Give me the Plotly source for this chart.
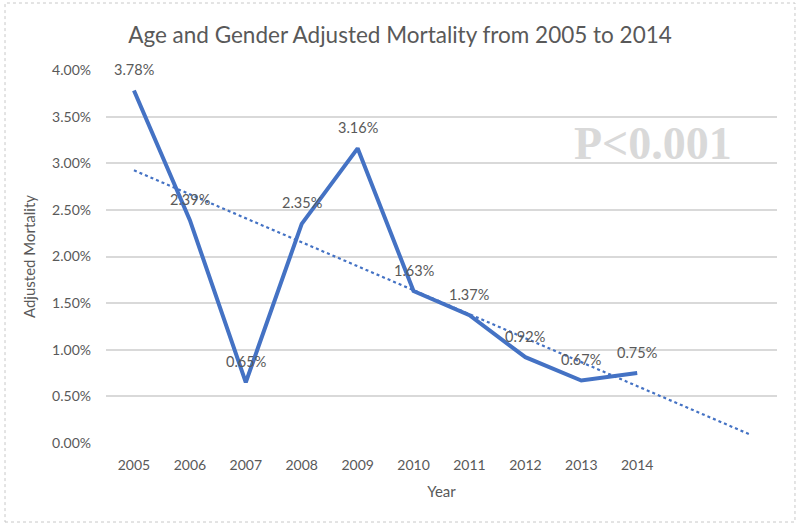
import numpy as np
import plotly.graph_objects as go

years = ["2005", "2006", "2007", "2008", "2009", "2010", "2011", "2012", "2013", "2014"]
mortality = [3.78, 2.39, 0.65, 2.35, 3.16, 1.63, 1.37, 0.92, 0.67, 0.75]
labels = ["3.78%", "2.39%", "0.65%", "2.35%", "3.16%", "1.63%", "1.37%", "0.92%", "0.67%", "0.75%"]
y_ticks = [0, 0.5, 1.0, 1.5, 2.0, 2.5, 3.0, 3.5, 4.0]
y_ticktext = ["0.00%", "0.50%", "1.00%", "1.50%", "2.00%", "2.50%", "3.00%", "3.50%", "4.00%"]
forecast_periods = 2

xs = list(range(len(years)))
slope, intercept = np.polyfit(xs, mortality, 1)
trend_x = [0, len(years) - 1 + forecast_periods]
trend_y = [intercept + slope * x for x in trend_x]

FONT = "Lato"
GRAY = "#595959"
BLUE = "#4472C4"

fig = go.Figure()
fig.add_trace(go.Scatter(x=trend_x, y=trend_y, mode="lines",
                         line=dict(color=BLUE, width=2.2, dash="dot"),
                         hoverinfo="skip", showlegend=False))
fig.add_trace(go.Scatter(x=xs, y=mortality, mode="lines",
                         line=dict(color=BLUE, width=4),
                         showlegend=False))

for x, y, t in zip(xs, mortality, labels):
    fig.add_annotation(x=x, y=y, text=t, showarrow=False, yshift=21,
                       font=dict(family=FONT, size=14.5, color=GRAY))

fig.add_annotation(x=9.28, y=3.21, text="<b>P&lt;0.001</b>", showarrow=False,
                   font=dict(family="Liberation Serif", size=46, color="#D9D9D9"))

fig.add_shape(type="rect", xref="paper", yref="paper",
              x0=-0.1505, x1=1.0268, y0=-0.2118, y1=1.1796,
              line=dict(color="#C8C8C8", width=1, dash="dot"), layer="below")

fig.update_layout(
    width=800, height=527,
    margin=dict(l=106, r=23, t=70, b=84),
    paper_bgcolor="white", plot_bgcolor="white",
    title=dict(text="Age and Gender Adjusted Mortality from 2005 to 2014",
               x=0.5, xanchor="center", y=0.934, yanchor="middle",
               font=dict(family=FONT, size=22.5, color=GRAY)),
    xaxis=dict(range=[-0.5, 11.5], tickvals=xs, ticktext=years,
               showgrid=False, zeroline=False, showline=False, ticks="",
               ticklabelstandoff=12,
               tickfont=dict(family=FONT, size=14, color=GRAY),
               title=dict(text="Year", font=dict(family=FONT, size=15, color=GRAY), standoff=14)),
    yaxis=dict(range=[0, 4.0], tickvals=y_ticks, ticktext=y_ticktext,
               showgrid=True, gridcolor="#D9D9D9", gridwidth=1.5, zeroline=False,
               showline=False, ticks="", ticklabelstandoff=14,
               tickfont=dict(family=FONT, size=14, color=GRAY),
               title=dict(text="Adjusted Mortality", font=dict(family=FONT, size=15, color=GRAY), standoff=12)),
)

fig.write_html("out.html", config={"displayModeBar": False},
               post_script="document.body.style.margin='0';document.body.style.overflow='hidden';")
